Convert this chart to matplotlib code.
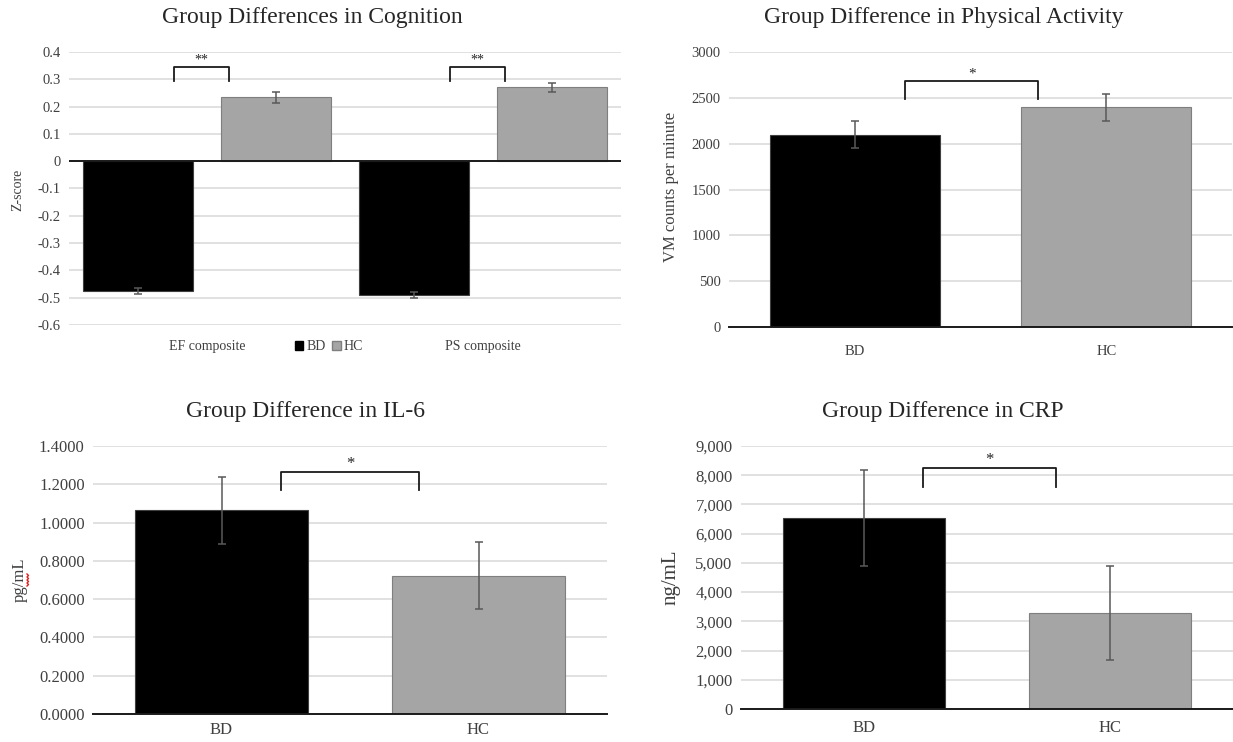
import numpy as np
import matplotlib.pyplot as plt
from matplotlib.patches import Patch

plt.rcParams['font.family'] = ['Liberation Serif', 'DejaVu Serif']
plt.rcParams['axes.unicode_minus'] = False

# data
cog_cats = ["EF composite", "PS composite"]
cog_bd = [-0.475, -0.49]
cog_bd_err = [0.011, 0.01]
cog_hc = [0.234, 0.27]
cog_hc_err = [0.02, 0.018]

groups = ["BD", "HC"]
pa_vals = [2100, 2395]
pa_err = [150, 150]
il6_vals = [1.064, 0.721]
il6_err = [0.175, 0.175]
crp_vals = [6530, 3290]
crp_err = [1650, 1610]

BD_COL = "#000000"
HC_COL = "#a5a5a5"
GRID = "#d9d9d9"
TXT = "#262626"
ERRC = "#595959"

W, H = 1233, 742
fig = plt.figure(figsize=(W / 100, H / 100), dpi=100)


def axes_px(l, r, t, b):
    return fig.add_axes([l / W, 1 - b / H, (r - l) / W, (b - t) / H])


def style(ax, ylim, yticks, fmt, tsize, pad):
    ax.set_ylim(*ylim)
    ax.set_yticks(yticks)
    ax.set_yticklabels([fmt(v) for v in yticks], fontsize=tsize, color="#404040")
    ax.grid(axis="y", color=GRID, lw=1.1)
    ax.set_axisbelow(True)
    for s in ["top", "right", "left"]:
        ax.spines[s].set_visible(False)
    ax.spines["bottom"].set_color("#1a1a1a")
    ax.spines["bottom"].set_linewidth(1.4)
    ax.tick_params(length=0)
    ax.tick_params(axis="y", pad=6)
    ax.tick_params(axis="x", pad=pad)


def bracket(ax, x0, x1, ytop, ylow, label, size):
    ax.plot([x0, x0, x1, x1], [ylow, ytop, ytop, ylow], color="#1a1a1a", lw=1.3, zorder=5)
    ax.text((x0 + x1) / 2, ytop, label, ha="center", va="bottom", fontsize=size, color=TXT)


ebar = dict(ecolor=ERRC, elinewidth=1.1, capsize=3, capthick=1.1)

# ---- cognition ----
ax1 = axes_px(69, 621, 52, 325)
x = np.arange(len(cog_cats))
ax1.bar(x - 0.25, cog_bd, 0.4, yerr=cog_bd_err, color=BD_COL, edgecolor="#404040", lw=0.8, error_kw=ebar)
ax1.bar(x + 0.25, cog_hc, 0.4, yerr=cog_hc_err, color=HC_COL, edgecolor="#7f7f7f", lw=0.8, error_kw=ebar)
ax1.set_xlim(-0.5, 1.5)
ax1.set_xticks(x)
ax1.set_xticklabels(cog_cats, fontsize=10, color="#404040")
style(ax1, (-0.6, 0.4), np.round(np.arange(-0.6, 0.41, 0.1), 1),
      lambda v: f"{v:g}" if abs(v) > 1e-9 else "0", 10.5, 11)
ax1.spines["bottom"].set_visible(False)
ax1.axhline(0, color="#1a1a1a", lw=1.4, zorder=3)
for xi in x:
    bracket(ax1, xi - 0.12, xi + 0.08, 0.345, 0.295, "**", 10)
ax1.legend(handles=[Patch(color=BD_COL, label="BD"), Patch(facecolor=HC_COL, edgecolor="#7f7f7f", label="HC")],
           loc="center", bbox_to_anchor=(329 / W, 1 - 347 / H), bbox_transform=fig.transFigure,
           ncol=2, frameon=False, fontsize=10, handlelength=0.6, handleheight=0.6,
           handletextpad=0.2, columnspacing=0.5, labelcolor="#404040")
fig.text(312 / W, 1 - 18 / H, "Group Differences in Cognition", ha="center", va="center", fontsize=17, color=TXT)
fig.text(18 / W, 1 - 190 / H, "Z-score", rotation=90, ha="center", va="center", fontsize=10, color="#404040")

# ---- physical activity ----
ax2 = axes_px(729, 1232, 52, 327)
xg = np.arange(len(groups))
ax2.bar(xg, pa_vals, 0.675, yerr=pa_err, color=[BD_COL, HC_COL], edgecolor=["#404040", "#7f7f7f"], lw=0.8, error_kw=ebar)
ax2.set_xlim(-0.5, 1.5)
ax2.set_xticks(xg)
ax2.set_xticklabels(groups, fontsize=10.5, color="#404040")
style(ax2, (0, 3000), np.arange(0, 3001, 500), lambda v: f"{v:g}", 10.5, 13)
bracket(ax2, 0.2, 0.73, 2687, 2489, "*", 11)
fig.text(944 / W, 1 - 18 / H, "Group Difference in Physical Activity", ha="center", va="center", fontsize=17, color=TXT)
fig.text(671 / W, 1 - 187 / H, "VM counts per minute", rotation=90, ha="center", va="center", fontsize=12, color="#404040")

# ---- IL-6 ----
ax3 = axes_px(93, 607, 446, 714)
ax3.bar(xg, il6_vals, 0.67, yerr=il6_err, color=[BD_COL, HC_COL], edgecolor=["#404040", "#7f7f7f"], lw=0.8, error_kw=ebar)
ax3.set_xlim(-0.5, 1.5)
ax3.set_xticks(xg)
ax3.set_xticklabels(groups, fontsize=12, color="#404040")
style(ax3, (0, 1.4), np.round(np.arange(0, 1.41, 0.2), 1), lambda v: f"{v:.4f}", 12, 6)
bracket(ax3, 0.23, 0.77, 1.266, 1.17, "*", 12)
fig.text(305 / W, 1 - 412 / H, "Group Difference in IL-6", ha="center", va="center", fontsize=17, color=TXT)
fig.text(20 / W, 1 - 580 / H, "pg/mL", rotation=90, ha="center", va="center", fontsize=12, color="#404040")
# spell-check squiggle under "g"
sq_y = 1 - np.linspace(574, 586, 9) / H
sq_x = (27 + 1.5 * np.array([0, 1, 0, 1, 0, 1, 0, 1, 0])) / W
fig.add_artist(plt.Line2D(sq_x, sq_y, color="#e0201c", lw=1, transform=fig.transFigure))

# ---- CRP ----
ax4 = axes_px(741, 1233, 446, 709)
ax4.bar(xg, crp_vals, 0.655, yerr=crp_err, color=[BD_COL, HC_COL], edgecolor=["#404040", "#7f7f7f"], lw=0.8, error_kw=ebar)
ax4.set_xlim(-0.5, 1.5)
ax4.set_xticks(xg)
ax4.set_xticklabels(groups, fontsize=12, color="#404040")
style(ax4, (0, 9000), np.arange(0, 9001, 1000), lambda v: f"{int(v):,}", 12, 8)
bracket(ax4, 0.24, 0.78, 8264, 7613, "*", 12)
fig.text(943 / W, 1 - 412 / H, "Group Difference in CRP", ha="center", va="center", fontsize=17, color=TXT)
fig.text(671 / W, 1 - 577 / H, "ng/mL", rotation=90, ha="center", va="center", fontsize=15, color="#404040")

fig.savefig("out.png", dpi=100)
